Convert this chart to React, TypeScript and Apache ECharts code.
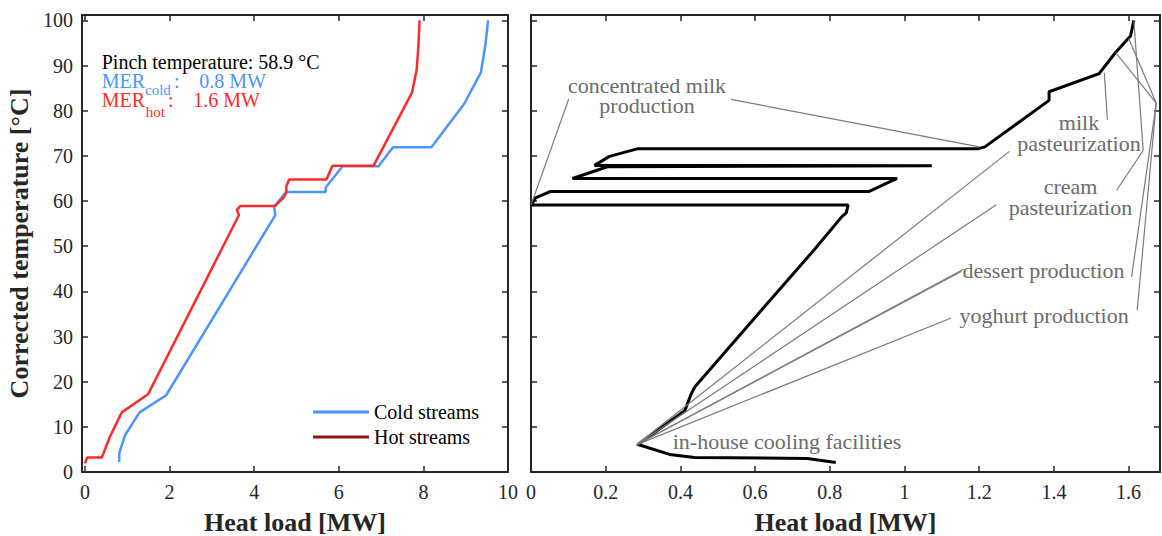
import React, { useEffect, useRef } from 'react';
import * as echarts from 'echarts';

// ---- data ----
const coldQ = [0.81, 0.81, 0.95, 1.29, 1.92, 4.5, 4.47, 4.75, 5.69, 5.69, 6.09, 6.94, 7.28, 8.19, 8.97, 9.36, 9.47, 9.53];
const coldT = [2.2, 4.2, 8.2, 13.2, 17.0, 56.9, 58.7, 62.0, 62.0, 63.0, 67.7, 67.7, 71.9, 71.9, 81.6, 88.5, 94.9, 100];

const hotQ = [0.0, 0.05, 0.4, 0.59, 0.87, 1.49, 3.64, 3.59, 3.67, 4.49, 4.69, 4.76, 4.76, 4.83, 5.71, 5.85, 6.82, 7.73, 7.84, 7.88, 7.91];
const hotT = [1.9, 3.2, 3.2, 7.8, 13.2, 17.2, 56.9, 58.0, 58.9, 58.9, 60.7, 61.8, 63.3, 64.8, 64.8, 67.8, 67.8, 84.0, 89.0, 94.0, 100];

const gccQ = [1.614, 1.605, 1.6, 1.565, 1.521, 1.387, 1.387, 1.215, 1.198, 0.2865, 0.21, 0.17, 1.073, 0.2045, 0.111, 0.98, 0.904, 0.051, 0.012, 0, 0.849, 0.844, 0.833, 0.756, 0.625, 0.439, 0.428, 0.412, 0.39, 0.2865, 0.371, 0.438, 0.74, 0.816];
const gccT = [100, 96.5, 96.1, 92.9, 88.2, 84.2, 82.3, 72.0, 71.6, 71.6, 69.9, 67.9, 67.8, 67.6, 65.0, 65.0, 62.1, 62.1, 60.7, 59.1, 59.1, 57.4, 56.6, 49.0, 36.6, 18.9, 17.1, 13.6, 12.3, 6.1, 3.9, 3.2, 3.0, 2.1];

const leftXTicks = [0, 2, 4, 6, 8, 10];
const rightXTicks = [0, 0.2, 0.4, 0.6, 0.8, 1, 1.2, 1.4, 1.6];
const yTicks = [0, 10, 20, 30, 40, 50, 60, 70, 80, 90, 100];

const pinchTemperature = '58.9';
const merCold = '0.8';
const merHot = '1.6';

// annotation leader lines, in data coordinates of the right panel
const annotationSegments = [
  [[0.101, 82.6], [0, 59.1]],
  [[0.536, 82.5], [1.2, 72.0]],
  [[1.535, 88.4], [1.543, 78.0]],
  [[1.568, 62.4], [1.639, 71.2]],
  [[1.639, 71.2], [1.614, 100]],
  [[1.6, 96.0], [1.674, 81.7]],
  [[1.565, 92.9], [1.674, 81.7]],
  [[1.674, 81.7], [1.608, 43.2]],
  [[1.674, 81.7], [1.623, 35.9]],
  [[0.2817, 6.0], [1.281, 71.0]],
  [[0.2817, 6.0], [1.246, 59.2]],
  [[0.2817, 6.0], [1.152, 44.4]],
  [[0.2817, 6.0], [1.158, 44.9]],
  [[0.2817, 6.0], [1.125, 34.1]],
];

const FONT = "'Liberation Serif', 'Times New Roman', Times, serif";
const BLUE = '#4d94ff';
const RED = '#ff2b2b';
const DARKRED = '#8b1414';
const AXIS = '#262626';
const GRAYTXT = '#6b6b6b';
const GRAYLINE = '#7a7a7a';

function xAx(grid: number, min: number, max: number, ticks: number[], pos: 'top' | 'bottom', withLabels: boolean) {
  return {
    type: 'value', gridIndex: grid, min, max, position: pos,
    splitLine: { show: false },
    axisLine: { show: true, onZero: false, lineStyle: { color: AXIS, width: 2 } },
    axisTick: { show: true, inside: true, length: 6, customValues: ticks, lineStyle: { color: AXIS, width: 1.5 } },
    axisLabel: {
      show: withLabels, customValues: ticks, margin: 10, fontSize: 20, fontFamily: FONT, color: AXIS,
      showMinLabel: true, showMaxLabel: true, formatter: (v: number) => String(v),
    },
    name: withLabels ? 'Heat load [MW]' : '', nameLocation: 'middle', nameGap: 37,
    nameTextStyle: { fontSize: 26, fontWeight: 'bold', fontFamily: FONT, color: AXIS },
  };
}

function yAx(grid: number, pos: 'left' | 'right', withLabels: boolean, withName: boolean) {
  return {
    type: 'value', gridIndex: grid, min: 0, max: 101.2, position: pos,
    splitLine: { show: false },
    axisLine: { show: true, onZero: false, lineStyle: { color: AXIS, width: 2 } },
    axisTick: { show: true, inside: true, length: 6, customValues: yTicks, lineStyle: { color: AXIS, width: 1.5 } },
    axisLabel: {
      show: withLabels, customValues: yTicks, margin: 9, fontSize: 20, fontFamily: FONT, color: AXIS,
      showMinLabel: true, showMaxLabel: true,
    },
    name: withName ? 'Corrected temperature [°C]' : '', nameLocation: 'middle', nameGap: 50,
    nameTextStyle: { fontSize: 26, fontWeight: 'bold', fontFamily: FONT, color: AXIS },
  };
}

function txt(text: string, x: number, y: number, fill: string, fontSize: number, align = 'left') {
  return {
    type: 'text', x, y, z: 10,
    style: { text, fill, fontSize, fontFamily: FONT, align, verticalAlign: 'middle', lineHeight: 20.5 },
  };
}

export default function App() {
  const ref = useRef<HTMLDivElement>(null);
  useEffect(() => {
    document.body.style.margin = '0';
    const chart = echarts.init(ref.current!, undefined, { renderer: 'svg' });
    const pair = (q: number[], t: number[]) => q.map((v, i) => [v, t[i]]);
    chart.setOption({
      animation: false,
      backgroundColor: '#ffffff',
      grid: [
        { left: 82, top: 15, width: 426, height: 457, outerBoundsMode: 'none', containLabel: false },
        { left: 531, top: 15, width: 629, height: 457, outerBoundsMode: 'none', containLabel: false },
      ],
      xAxis: [
        xAx(0, -0.07, 10, leftXTicks, 'bottom', true),
        xAx(0, -0.07, 10, leftXTicks, 'top', false),
        xAx(1, 0, 1.684, rightXTicks, 'bottom', true),
        xAx(1, 0, 1.684, rightXTicks, 'top', false),
      ],
      yAxis: [
        yAx(0, 'left', true, true),
        yAx(0, 'right', false, false),
        yAx(1, 'left', false, false),
        yAx(1, 'right', false, false),
      ],
      legend: {
        data: [
          { name: 'Cold streams', itemStyle: { color: BLUE } },
          { name: 'Hot streams', itemStyle: { color: DARKRED } },
        ],
        orient: 'vertical', left: 308, top: 397, itemWidth: 56, itemHeight: 3, itemGap: 5,
        icon: 'rect', selectedMode: false,
        textStyle: { fontSize: 20, fontFamily: FONT, color: '#000', lineHeight: 20 },
      },
      series: [
        {
          type: 'line', name: 'Cold streams', xAxisIndex: 0, yAxisIndex: 0,
          data: pair(coldQ, coldT), symbol: 'none', showSymbol: false,
          lineStyle: { color: BLUE, width: 2.5 }, itemStyle: { color: BLUE },
        },
        {
          type: 'line', name: 'Hot streams', xAxisIndex: 0, yAxisIndex: 0,
          data: pair(hotQ, hotT), symbol: 'none', showSymbol: false,
          lineStyle: { color: RED, width: 2.5 }, itemStyle: { color: RED },
        },
        {
          type: 'line', name: 'Grand composite curve', xAxisIndex: 2, yAxisIndex: 2,
          data: pair(gccQ, gccT), symbol: 'none', showSymbol: false,
          lineStyle: { color: '#000', width: 3 }, itemStyle: { color: '#000' },
        },
        {
          type: 'lines', name: 'annotations', coordinateSystem: 'cartesian2d', xAxisIndex: 2, yAxisIndex: 2,
          data: annotationSegments.map((c) => ({ coords: c })), z: 5,
          lineStyle: { color: GRAYLINE, width: 1.2, opacity: 1, curveness: 0 },
        },
      ],
      graphic: [
        txt(`Pinch temperature: ${pinchTemperature} °C`, 101.7, 61.7, '#000', 20),
        txt('MER', 101.7, 81, BLUE, 20),
        txt('cold', 145, 90, BLUE, 15),
        txt(':', 174, 81, BLUE, 20),
        txt(`${merCold} MW`, 199.3, 81, BLUE, 20),
        txt('MER', 101.7, 100, RED, 20),
        txt('hot', 145.7, 111.7, RED, 15),
        txt(':', 168, 100, RED, 20),
        txt(`${merHot} MW`, 193.3, 100, RED, 20),
        txt('concentrated milk\nproduction', 647, 95.3, GRAYTXT, 22, 'center'),
        txt('milk\npasteurization', 1079, 133, GRAYTXT, 22, 'center'),
        txt('cream\npasteurization', 1070.5, 197, GRAYTXT, 22, 'center'),
        txt('dessert production', 1043.5, 270.7, GRAYTXT, 22, 'center'),
        txt('yoghurt production', 1044, 315, GRAYTXT, 22, 'center'),
        txt('in-house cooling facilities', 787, 441.7, GRAYTXT, 22, 'center'),
      ],
    });
    return () => chart.dispose();
  }, []);
  return <div ref={ref} style={{ width: 1162, height: 536 }} />;
}
